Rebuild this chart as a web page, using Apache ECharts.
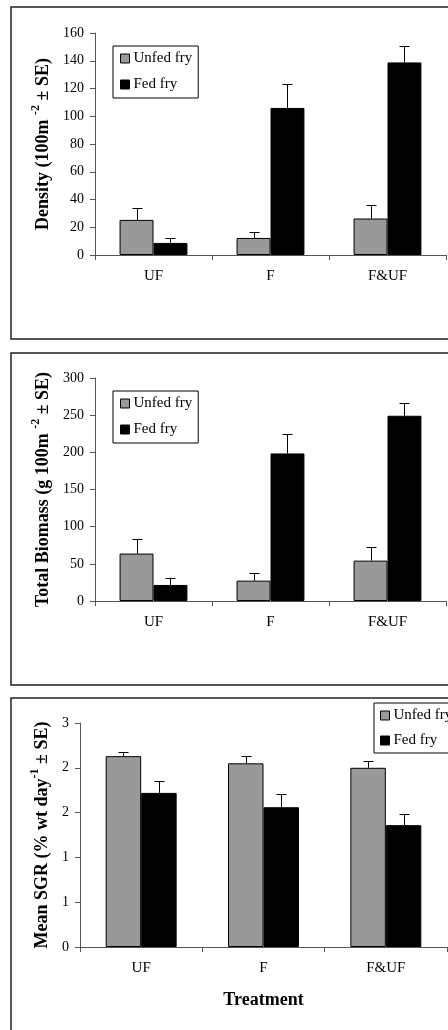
<!DOCTYPE html>
<html>
<head>
<meta charset="utf-8">
<script src="https://cdn.jsdelivr.net/npm/echarts@6/dist/echarts.min.js"></script>
<style>
html,body{margin:0;padding:0;background:#fff;}
#chart{width:448px;height:1030px;}
</style>
</head>
<body>
<div id="chart"></div>
<script>
const categories = ['UF', 'F', 'F&UF'];
const seriesNames = ['Unfed fry', 'Fed fry'];

const densityUnfed = [25.3, 12.3, 26.3];
const densityUnfedSE = [8.4, 4.3, 9.8];
const densityFed = [8.7, 106.0, 138.8];
const densityFedSE = [3.6, 17.6, 12.0];

const biomassUnfed = [63.8, 27.4, 54.3];
const biomassUnfedSE = [20.2, 10.8, 18.4];
const biomassFed = [21.6, 198.5, 249.2];
const biomassFedSE = [9.4, 26.5, 16.6];

const sgrUnfed = [2.13, 2.05, 2.00];
const sgrUnfedSE = [0.045, 0.08, 0.08];
const sgrFed = [1.72, 1.56, 1.36];
const sgrFedSE = [0.13, 0.15, 0.12];

const yMax = [160, 300, 2.5];
const yInterval = [20, 50, 0.5];

const FONT = '"Liberation Serif", "Times New Roman", serif';
const GRAY = '#999999';
const GAP = 0.42;

const chart = echarts.init(document.getElementById('chart'), null, {renderer: 'canvas'});

const grids = [
  {left: 95, top: 33, width: 351, height: 222},
  {left: 95, top: 378, width: 351, height: 223},
  {left: 80, top: 723, width: 367, height: 224}
];

function yName(main, sup, tail) {
  return '{a|' + main + '}{s|' + sup + '}{a|' + tail + '}';
}
const yNames = [
  yName('Density (100m ', '-2', ' ± SE)'),
  yName('Total Biomass (g 100m ', '-2', ' ± SE)'),
  yName('Mean SGR (% wt day', '-1', ' ± SE)')
];
const yNameGaps = [43, 43, 28];

const xAxes = grids.map((g, i) => ({
  type: 'category',
  gridIndex: i,
  data: categories,
  boundaryGap: true,
  axisLine: {show: true, lineStyle: {color: '#555', width: 1}},
  axisTick: {show: true, length: 5, inside: false, lineStyle: {color: '#555'}},
  axisLabel: {fontFamily: FONT, fontSize: 15, color: '#000', margin: 14},
  splitLine: {show: false},
  name: i === 2 ? 'Treatment' : '',
  nameLocation: 'middle',
  nameGap: 44,
  nameTextStyle: {fontFamily: FONT, fontSize: 18, fontWeight: 'bold', color: '#000'}
}));

const yAxes = grids.map((g, i) => ({
  type: 'value',
  gridIndex: i,
  min: 0,
  max: yMax[i],
  interval: yInterval[i],
  axisLine: {show: true, lineStyle: {color: '#555', width: 1}},
  axisTick: {show: true, length: 5, inside: false, lineStyle: {color: '#555'}},
  axisLabel: {
    fontFamily: FONT, fontSize: 14, color: '#000', margin: 11,
    formatter: i === 2 ? (v) => String(Math.round(v)) : (v) => String(v)
  },
  splitLine: {show: false},
  name: yNames[i],
  nameLocation: 'middle',
  nameRotate: 90,
  nameGap: yNameGaps[i],
  nameTextStyle: {
    rich: {
      a: {fontFamily: FONT, fontSize: 18, fontWeight: 'bold', color: '#000', lineHeight: 22, verticalAlign: 'bottom'},
      s: {fontFamily: FONT, fontSize: 12, fontWeight: 'bold', color: '#000', lineHeight: 22, verticalAlign: 'top'}
    }
  }
}));

function barSeries(name, data, color, idx) {
  return {
    type: 'bar',
    name: name,
    xAxisIndex: idx,
    yAxisIndex: idx,
    data: data,
    barGap: '0%',
    barCategoryGap: (GAP * 100) + '%',
    itemStyle: {color: color, borderColor: '#000', borderWidth: 1},
    emphasis: {disabled: true},
    z: 2
  };
}

function errSeries(values, se, idx, side) {
  return {
    type: 'custom',
    xAxisIndex: idx,
    yAxisIndex: idx,
    data: values.map((v, k) => [k, v, se[k]]),
    encode: {x: 0, y: 1},
    z: 3,
    silent: true,
    renderItem: function (params, api) {
      const base = api.coord([api.value(0), api.value(1)]);
      const top = api.coord([api.value(0), api.value(1) + api.value(2)]);
      const band = api.size([1, 0])[0];
      const bw = band * (1 - GAP) / 2;
      const x = Math.round(base[0] + side * bw / 2) + 0.5;
      const ty = Math.round(top[1]) + 0.5;
      const style = {stroke: '#000', lineWidth: 1};
      return {
        type: 'group',
        children: [
          {type: 'line', shape: {x1: x, y1: base[1], x2: x, y2: ty}, style: style},
          {type: 'line', shape: {x1: x - 5, y1: ty, x2: x + 5, y2: ty}, style: style}
        ]
      };
    }
  };
}

const series = [
  barSeries(seriesNames[0], densityUnfed, GRAY, 0),
  barSeries(seriesNames[1], densityFed, '#000', 0),
  errSeries(densityUnfed, densityUnfedSE, 0, -1),
  errSeries(densityFed, densityFedSE, 0, 1),
  barSeries(seriesNames[0], biomassUnfed, GRAY, 1),
  barSeries(seriesNames[1], biomassFed, '#000', 1),
  errSeries(biomassUnfed, biomassUnfedSE, 1, -1),
  errSeries(biomassFed, biomassFedSE, 1, 1),
  barSeries(seriesNames[0], sgrUnfed, GRAY, 2),
  barSeries(seriesNames[1], sgrFed, '#000', 2),
  errSeries(sgrUnfed, sgrUnfedSE, 2, -1),
  errSeries(sgrFed, sgrFedSE, 2, 1)
];

function legendAt(left, top, pad, gap) {
  return {
    orient: 'vertical',
    left: left,
    top: top,
    padding: pad,
    itemGap: gap,
    itemWidth: 9,
    itemHeight: 9,
    icon: 'rect',
    selectedMode: false,
    backgroundColor: '#fff',
    borderColor: '#000',
    borderWidth: 1,
    data: seriesNames,
    textStyle: {fontFamily: FONT, fontSize: 15, color: '#000', padding: [0, 0, 0, -1]},
    itemStyle: {borderColor: '#000', borderWidth: 1}
  };
}

const option = {
  animation: false,
  backgroundColor: '#fff',
  grid: grids.map(g => Object.assign({containLabel: false}, g)),
  xAxis: xAxes,
  yAxis: yAxes,
  legend: [
    legendAt(113, 46, [5, 6, 6, 7], 11),
    legendAt(113, 391, [5, 6, 6, 7], 11),
    legendAt(374, 703, [5, 6, 5, 6], 10)
  ],
  graphic: [
    {type: 'rect', shape: {x: 11, y: 7, width: 460, height: 332}, style: {fill: 'none', stroke: '#222', lineWidth: 1.5}, z: 0, silent: true},
    {type: 'rect', shape: {x: 11, y: 353, width: 460, height: 332}, style: {fill: 'none', stroke: '#222', lineWidth: 1.5}, z: 0, silent: true},
    {type: 'rect', shape: {x: 11, y: 698, width: 460, height: 360}, style: {fill: 'none', stroke: '#222', lineWidth: 1.5}, z: 0, silent: true}
  ],
  series: series
};

chart.setOption(option);
</script>
</body>
</html>
